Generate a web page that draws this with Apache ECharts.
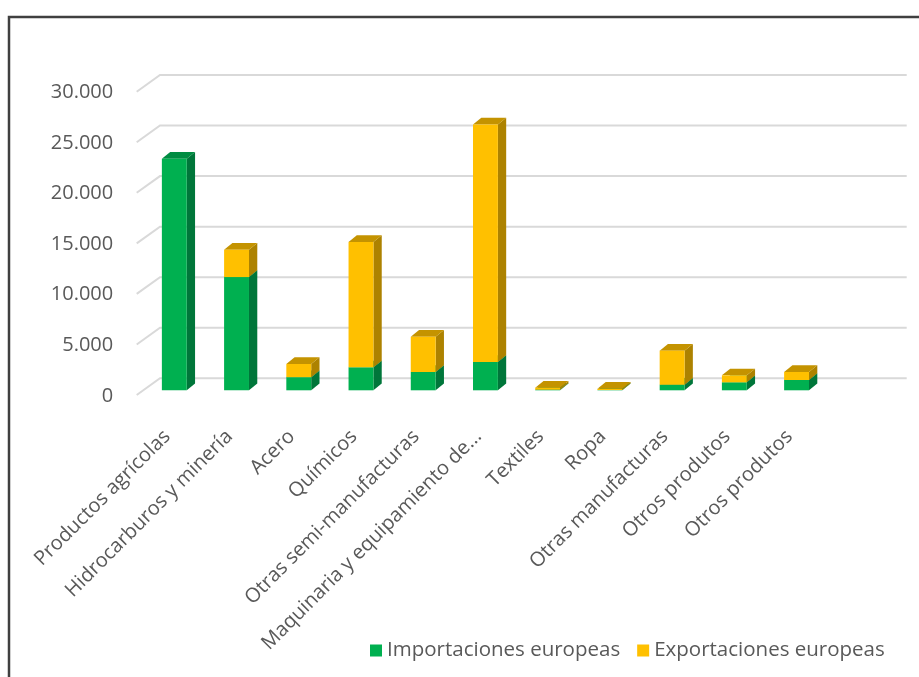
<!DOCTYPE html>
<html>
<head>
<meta charset="utf-8">
<script src="https://cdn.jsdelivr.net/npm/echarts@6/dist/echarts.min.js"></script>
<style>
html,body{margin:0;padding:0;background:#fff;}
#chart{width:919px;height:677px;}
</style>
</head>
<body>
<div id="chart"></div>
<script>
var categories = ["Productos agrícolas","Hidrocarburos y minería","Acero","Químicos","Otras semi-manufacturas","Maquinaria y equipamiento de...","Textiles","Ropa","Otras manufacturas","Otros produtos","Otros produtos"];
var importaciones = [22900, 11200, 1300, 2270, 1810, 2800, 60, 30, 550, 790, 1020];
var exportaciones = [0, 2700, 1300, 12400, 3490, 23500, 200, 120, 3370, 690, 790];
var yTicks = [0, 5000, 10000, 15000, 20000, 25000, 30000];
var seriesNames = ["Importaciones europeas","Exportaciones europeas"];

var FONT = "'Open Sans', 'Noto Sans', sans-serif";
var DX = 8.3, DY = 6.7;         // bar depth
var WDX = 16.8, WDY = 12;       // back wall offset from bar plane
var FDX = -6.5, FDY = 4.7;      // front plane offset from bar plane

function fmt(v){ return String(v).replace(/\B(?=(\d{3})+(?!\d))/g, "."); }

var impData = importaciones.map(function(v,i){ return [i, 0, v]; });
var expData = exportaciones.map(function(v,i){ return [i, importaciones[i], importaciones[i] + v]; });

function boxRenderer(front, side, top){
  return function(params, api){
    var i = api.value(0);
    var b = api.coord([i, api.value(1)]);
    var t = api.coord([i, api.value(2)]);
    var w = api.size([1,0])[0] * 0.4;
    var x0 = b[0] - w/2, x1 = x0 + w;
    var yb = b[1], yt = t[1];
    if (yb - yt < 0.01) return null;
    return {
      type: 'group',
      children: [
        { type:'polygon', shape:{points:[[x1,yt],[x1+DX,yt-DY],[x1+DX,yb-DY],[x1,yb]]}, style:{fill:side} },
        { type:'polygon', shape:{points:[[x0,yt],[x0+DX,yt-DY],[x1+DX,yt-DY],[x1,yt]]}, style:{fill:top} },
        { type:'rect', shape:{x:x0, y:yt, width:w, height:yb-yt}, style:{fill:front} }
      ]
    };
  };
}

var chart = echarts.init(document.getElementById('chart'));
chart.setOption({
  backgroundColor:'#fff',
  animation:false,
  graphic:[{
    type:'polyline', shape:{points:[[9,677],[9,17],[919,17]]},
    style:{stroke:'#404040', lineWidth:2.5, fill:null}, z:100
  }],
  grid:{left:143.2, right:29.1, top:87, bottom:286.7, containLabel:false},
  legend:{
    left:365, top:635,
    itemWidth:12, itemHeight:12, itemGap:17,
    icon:'rect',
    textStyle:{fontFamily:FONT, fontSize:20.5, color:'#595959'},
    data: seriesNames
  },
  xAxis:{
    type:'category', data:categories, max:11,
    axisLine:{show:false}, axisTick:{show:false}, splitLine:{show:false},
    axisLabel:{rotate:45, interval:0, margin:36, padding:[0,10,0,0], fontFamily:FONT, fontSize:20, color:'#595959'}
  },
  yAxis:{
    type:'value', min:0, max:30000, interval:5000,
    axisLine:{show:false}, axisTick:{show:false}, splitLine:{show:false},
    axisLabel:{margin:30, verticalAlign:'top', lineHeight:11, fontFamily:FONT, fontSize:20, color:'#595959', formatter:fmt}
  },
  series:[
    {
      name:'grid', type:'custom', silent:true, z:1,
      data: yTicks.map(function(v){ return [0, v]; }),
      encode:{x:0, y:1},
      renderItem:function(params, api){
        var cs = params.coordSys;
        var p = api.coord([0, api.value(1)]);
        var y = p[1];
        return { type:'polyline',
          shape:{points:[[cs.x+FDX, y+FDY],[cs.x+WDX, y-WDY],[cs.x+cs.width+WDX, y-WDY]]},
          style:{stroke:'#d9d9d9', lineWidth:2, fill:null} };
      }
    },
    {
      name:seriesNames[0], type:'custom', z:3,
      itemStyle:{color:'#00B050'},
      data: impData, encode:{x:0, y:[1,2]},
      renderItem: boxRenderer('#00B050', '#00763A', '#008C42')
    },
    {
      name:seriesNames[1], type:'custom', z:3,
      itemStyle:{color:'#FFC000'},
      data: expData, encode:{x:0, y:[1,2]},
      renderItem: boxRenderer('#FFC000', '#AD8200', '#C49300')
    }
  ]
});
</script>
</body>
</html>
